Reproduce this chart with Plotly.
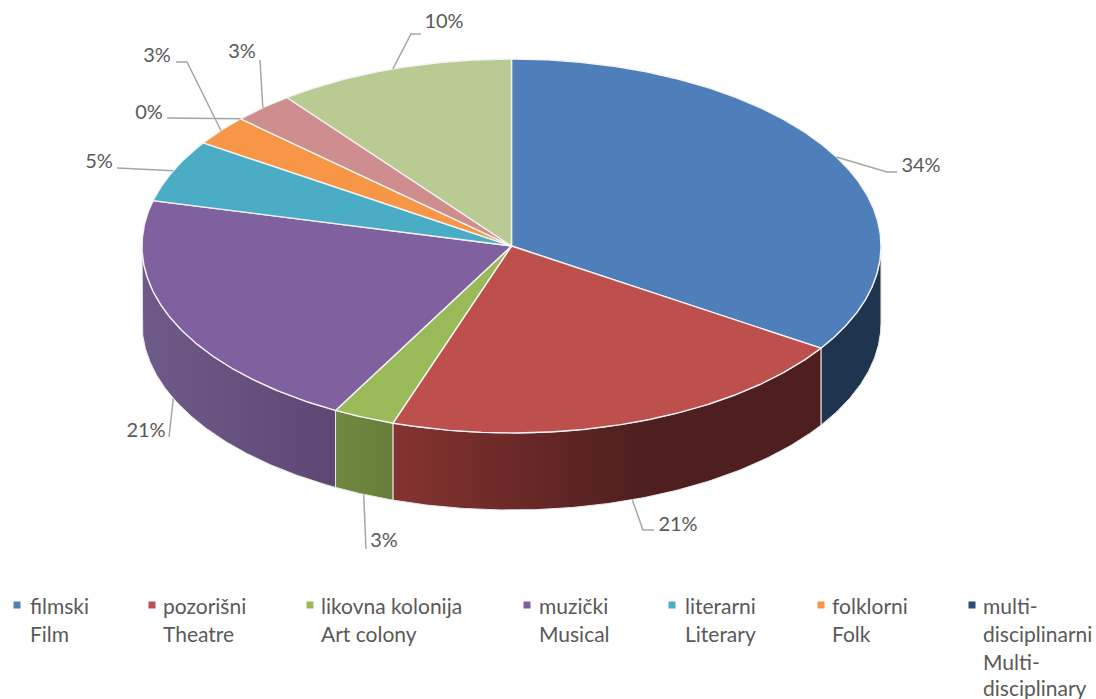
import numpy as np
import plotly.graph_objects as go

# ---- data ----
slice_values = [34.2, 21.0, 2.7, 21.0, 5.4, 2.6, 0.0, 2.7, 10.4]
slice_labels = ["34%", "21%", "3%", "21%", "5%", "3%", "0%", "3%", "10%"]
legend_lines = [
    ["filmski", "Film"],
    ["pozorišni", "Theatre"],
    ["likovna kolonija", "Art colony"],
    ["muzički", "Musical"],
    ["literarni", "Literary"],
    ["folklorni", "Folk"],
    ["multi-", "disciplinarni", "Multi-", "disciplinary"],
]

# ---- styling and layout ----
top_colors = ["#4F7FBB", "#BD4F4C", "#9ABA59", "#7F61A0", "#4BACC6", "#F79646", "#2C4D75", "#CD8E8D", "#B9CA92"]
side_stops = [
    [[0, "#1F344E"], [1, "#1F344E"]],
    [[0, "#853331"], [0.58, "#4E1F1E"], [1, "#4E1F1E"]],
    [[0, "#71893F"], [1, "#667E3A"]],
    [[0, "#6E5A88"], [1, "#5F4775"]],
    None, None, None, None, None,
]
CX, CY, RX, RY, DEPTH = 511.5, 246, 369.5, 187, 77
GREY_TEXT, GREY_LINE = "#595959", "#A6A6A6"
FONT = "Lato"
LABEL_SIZE, LEGEND_SIZE = 20, 21
# label centre and leader elbow(s), per slice
label_pos = [(921, 167), (678, 526), (384, 542), (146, 432), (99, 163), (157, 57), (149, 114), (242, 53), (444, 23)]
leader_bends = [
    [(887, 172), (897, 172)],
    [(643, 530), (654, 530)],
    [(366, 549)],
    [(169, 437)],
    [(117, 168)],
    [(187, 62), (176, 62)],
    [(167, 118)],
    [(260, 60)],
    [(411, 34), (421, 34)],
]
legend_marker_x = [17, 152, 310, 527, 672, 821, 972]
legend_text_x = [30, 163, 321, 539, 685, 832, 983]
legend_row_y = [605, 633, 661, 687]

total = sum(slice_values)
edges = np.cumsum([0] + slice_values) / total * 360.0


def rim(theta_deg, drop=0.0):
    t = np.radians(theta_deg)
    return CX + RX * np.sin(t), CY - RY * np.cos(t) + drop


fig = go.Figure()

# side walls: only the part of the rim that faces the viewer
for a, b, stops in zip(edges[:-1], edges[1:], side_stops):
    lo, hi = max(a, 90.0), min(b, 270.0)
    if hi <= lo or stops is None:
        continue
    th = np.linspace(lo, hi, 120)
    x1, y1 = rim(th)
    x2, y2 = rim(th[::-1], DEPTH)
    xs = np.r_[x1, x2, x1[0]]
    ys = np.r_[y1, y2, y1[0]]
    fig.add_trace(go.Scatter(
        x=xs, y=ys, mode="lines", fill="toself",
        line=dict(color="#E9E9E9", width=1),
        fillgradient=dict(type="horizontal", colorscale=stops),
        showlegend=False, hoverinfo="skip"))

# top faces
for a, b, col in zip(edges[:-1], edges[1:], top_colors):
    if b <= a:
        continue
    th = np.linspace(a, b, max(3, int((b - a) * 3)))
    x, y = rim(th)
    fig.add_trace(go.Scatter(
        x=np.r_[CX, x, CX], y=np.r_[CY, y, CY], mode="lines", fill="toself",
        fillcolor=col, line=dict(color="#F4F4F4", width=1.4),
        showlegend=False, hoverinfo="skip"))

# leader lines, anchored at each slice's mid angle
for a, b, bends in zip(edges[:-1], edges[1:], leader_bends):
    mid = (a + b) / 2
    drop = DEPTH if 150 < mid < 270 else 0
    ax, ay = rim(mid, drop)
    xs = [ax] + [p[0] for p in bends]
    ys = [ay] + [p[1] for p in bends]
    fig.add_trace(go.Scatter(x=xs, y=ys, mode="lines",
                             line=dict(color=GREY_LINE, width=1.5),
                             showlegend=False, hoverinfo="skip"))

# data labels
fig.add_trace(go.Scatter(
    x=[p[0] for p in label_pos], y=[p[1] for p in label_pos],
    mode="text", text=slice_labels, textposition="middle center",
    textfont=dict(family=FONT, size=LABEL_SIZE, color=GREY_TEXT),
    showlegend=False, hoverinfo="skip"))

# legend
fig.add_trace(go.Scatter(
    x=legend_marker_x, y=[legend_row_y[0]] * len(legend_marker_x), mode="markers",
    marker=dict(symbol="square", size=7, color=top_colors[:7], line=dict(width=0)),
    showlegend=False, hoverinfo="skip"))
for tx, lines in zip(legend_text_x, legend_lines):
    for row, line in zip(legend_row_y, lines):
        fig.add_annotation(x=tx, y=row, text=line, showarrow=False, xanchor="left",
                           yanchor="middle", xref="x", yref="y", xshift=-2,
                           font=dict(family=FONT, size=LEGEND_SIZE, color=GREY_TEXT))

fig.update_layout(
    width=1096, height=699, margin=dict(l=0, r=0, t=0, b=0),
    paper_bgcolor="white", plot_bgcolor="white", showlegend=False,
    xaxis=dict(range=[0, 1096], visible=False, fixedrange=True),
    yaxis=dict(range=[699, 0], visible=False, fixedrange=True),
)
fig.write_html("out.html", config=dict(displayModeBar=False),
               post_script="document.body.style.margin='0';document.body.style.overflow='hidden';")
